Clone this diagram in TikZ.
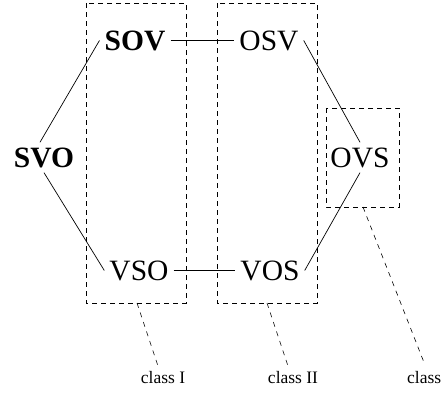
\documentclass[tikz,border=0pt]{standalone}
\usepackage{fontspec}
\setmainfont{Liberation Serif}
\begin{document}
\begin{tikzpicture}[x=1pt,y=-1pt,
  word/.style={anchor=base,inner sep=5pt,font=\fontsize{29.5}{34}\selectfont},
  bword/.style={word,font=\fontsize{29.5}{34}\selectfont\bfseries},
  classbox/.style={draw,dash pattern=on 5pt off 4pt,line width=0.8pt},
  pointer/.style={draw,dash pattern=on 5pt off 5pt,line width=0.6pt},
  link/.style={draw,line width=0.7pt},
  lab/.style={anchor=base,inner sep=0pt,font=\fontsize{17.5}{20}\selectfont}]
\useasboundingbox (0,0) rectangle (441,392);
% class boxes
\draw[classbox] (86,3) rectangle (186,303);
\draw[classbox] (217,3) rectangle (317,303);
\draw[classbox] (326,108) rectangle (399,207);
% word orders
\node[bword] (sov) at (135,50) {SOV};
\node[word]  (osv) at (269,50) {OSV};
\node[bword] (svo) at (44,167) {SVO};
\node[word]  (ovs) at (360,167) {OVS};
\node[word]  (vso) at (139,280) {VSO};
\node[word]  (vos) at (270,280) {VOS};
% links
\draw[link] (sov.east) -- (osv.west);
\draw[link] (vso.east) -- (vos.west);
\draw[link] ([xshift=-4pt]svo.north) -- (sov.west);
\draw[link] (svo.south) -- (vso.west);
\draw[link] (osv.east) -- (ovs.north);
\draw[link] (ovs.south) -- (vos.east);
% class labels
\node[lab] (c1) at (163,383) {class I};
\node[lab] (c2) at (293,383) {class II};
\node[lab,anchor=base west] (c3) at (407,383) {class};
\coordinate (p1) at (137,303);
\coordinate (p2) at (267,303);
\coordinate (p3) at (363,207);
\coordinate (q1) at (158,366);
\coordinate (q2) at (288,366);
\coordinate (q3) at (425,365);
\draw[pointer] (p1) -- (q1);
\draw[pointer] (p2) -- (q2);
\draw[pointer] (p3) -- (q3);
\end{tikzpicture}
\end{document}
